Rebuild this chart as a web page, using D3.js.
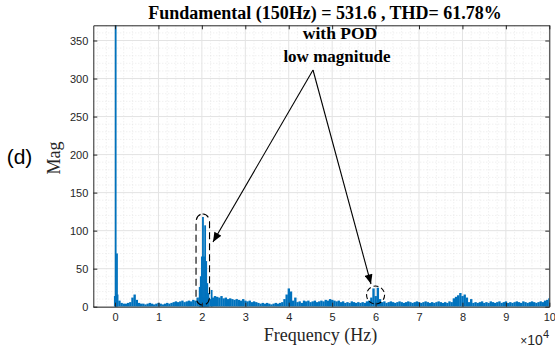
<!DOCTYPE html>
<html>
<head>
<meta charset="utf-8">
<script src="https://cdn.jsdelivr.net/npm/d3@7"></script>
<style>
  body { margin: 0; background: #fff; }
  .tick text { font-family: "Liberation Sans", Arial, sans-serif; font-size: 11px; fill: #262626; }
</style>
</head>
<body>
<svg id="chart"></svg>
<script>
// spectrum floor, one value every 500 Hz from 0 to 100 kHz
const binStep = 500;
const floorMag = [
  14, 16, 8, 5, 4, 4, 5, 6, 12, 16,
  9, 5, 4, 4, 3, 4, 5, 4, 3, 4,
  5, 4, 3, 4, 5, 4, 5, 6, 7, 6,
  7, 8, 6, 7, 8, 7, 9, 8, 12, 12,
  12, 12, 12, 12, 10, 12, 14, 13, 12, 14,
  11, 12, 10, 11, 10, 9, 10, 9, 8, 10,
  8, 7, 8, 6, 7, 6, 5, 4, 5, 4,
  5, 4, 3, 4, 5, 4, 5, 6, 10, 16,
  24, 20, 8, 12, 6, 7, 5, 8, 7, 8,
  6, 7, 8, 6, 7, 8, 7, 9, 8, 10,
  9, 8, 7, 8, 6, 7, 5, 6, 5, 7,
  6, 5, 6, 5, 6, 5, 7, 8, 12, 24,
  14, 25, 10, 6, 7, 5, 6, 7, 6, 5,
  6, 7, 6, 5, 6, 7, 6, 5, 6, 7,
  6, 5, 6, 7, 6, 5, 6, 5, 6, 7,
  6, 5, 6, 5, 7, 6, 11, 13, 15, 18,
  14, 16, 12, 6, 10, 5, 6, 5, 6, 7,
  5, 6, 5, 7, 6, 5, 6, 7, 5, 6,
  7, 5, 6, 5, 6, 7, 6, 5, 7, 6,
  5, 6, 7, 6, 5, 6, 7, 6, 8, 9,
  11
];

// narrow spikes (fundamental and the switching cluster around 20 kHz)
const peakFreq = [150, 450, 19500, 19750, 20000, 20250, 20500, 20750, 21000, 21250, 21500, 22250];
const peakMag = [531.6, 70, 26, 40, 66, 118, 66, 107, 60, 31, 18, 22];

const xTicks = [0, 10000, 20000, 30000, 40000, 50000, 60000, 70000, 80000, 90000, 100000];
const xTickLabels = ['0', '1', '2', '3', '4', '5', '6', '7', '8', '9', '10'];
const yTicks = [0, 50, 100, 150, 200, 250, 300, 350];

const width = 555;
const height = 350;
const plotLeft = 93.3, plotRight = 549.3, plotTop = 25.3, plotBottom = 306.7;
const blue = '#0072BD';
const axisColor = '#262626';

const svg = d3.select('#chart').attr('width', width).attr('height', height);

const xScale = d3.scaleLinear().domain([-5000, 100000]).range([plotLeft, plotRight]);
const yScale = d3.scaleLinear().domain([0, 370]).range([plotBottom, plotTop]);

const defs = svg.append('defs');
defs.append('clipPath').attr('id', 'plotClip')
  .append('rect')
  .attr('x', plotLeft).attr('y', plotTop)
  .attr('width', plotRight - plotLeft).attr('height', plotBottom - plotTop);

// minor grid (dotted)
const minorX = d3.range(-4000, 100001, 2000).filter(v => v % 10000 !== 0);
const minorY = d3.range(10, 370, 10).filter(v => v % 50 !== 0);
const grid = svg.append('g');
grid.selectAll('line.mx').data(minorX).enter().append('line')
  .attr('x1', d => xScale(d)).attr('x2', d => xScale(d))
  .attr('y1', plotTop).attr('y2', plotBottom)
  .attr('stroke', '#dcdcdc').attr('stroke-width', 0.6).attr('stroke-dasharray', '1,2');
grid.selectAll('line.my').data(minorY).enter().append('line')
  .attr('x1', plotLeft).attr('x2', plotRight)
  .attr('y1', d => yScale(d)).attr('y2', d => yScale(d))
  .attr('stroke', '#dcdcdc').attr('stroke-width', 0.6).attr('stroke-dasharray', '1,2');
// major grid
grid.selectAll('line.gx').data(xTicks).enter().append('line')
  .attr('x1', d => xScale(d)).attr('x2', d => xScale(d))
  .attr('y1', plotTop).attr('y2', plotBottom)
  .attr('stroke', '#e3e3e3').attr('stroke-width', 1);
grid.selectAll('line.gy').data(yTicks).enter().append('line')
  .attr('x1', plotLeft).attr('x2', plotRight)
  .attr('y1', d => yScale(d)).attr('y2', d => yScale(d))
  .attr('stroke', '#e3e3e3').attr('stroke-width', 1);

// spectrum
const plot = svg.append('g').attr('clip-path', 'url(#plotClip)');
const binW = xScale(binStep) - xScale(0);
plot.selectAll('rect.bin')
  .data(floorMag)
  .enter()
  .append('rect')
  .attr('class', 'bin')
  .attr('x', (d, i) => xScale(i * binStep) - binW / 2)
  .attr('width', binW + 0.2)
  .attr('y', d => yScale(d))
  .attr('height', d => yScale(0) - yScale(d))
  .attr('fill', blue);

const peaks = peakFreq.map((f, i) => ({ f, m: peakMag[i] }));
plot.selectAll('rect.peak')
  .data(peaks)
  .enter()
  .append('rect')
  .attr('class', 'peak')
  .attr('x', d => xScale(d.f) - 0.9)
  .attr('width', 1.8)
  .attr('y', d => yScale(d.m))
  .attr('height', d => yScale(0) - yScale(d.m))
  .attr('fill', blue);

// axes with inward ticks, MATLAB style box
const xAxis = d3.axisBottom(xScale).tickValues(xTicks)
  .tickFormat((d, i) => xTickLabels[i]).tickSizeInner(-4).tickSizeOuter(0).tickPadding(7);
const yAxis = d3.axisLeft(yScale).tickValues(yTicks)
  .tickSizeInner(-4).tickSizeOuter(0).tickPadding(5);

svg.append('g').attr('transform', 'translate(0,' + plotBottom + ')').call(xAxis);
svg.append('g').attr('transform', 'translate(' + plotLeft + ',0)').call(yAxis);
svg.append('g').attr('transform', 'translate(0,' + plotTop + ')')
  .call(d3.axisTop(xScale).tickValues(xTicks).tickFormat('').tickSizeInner(-4).tickSizeOuter(0));
svg.append('g').attr('transform', 'translate(' + plotRight + ',0)')
  .call(d3.axisRight(yScale).tickValues(yTicks).tickFormat('').tickSizeInner(-4).tickSizeOuter(0));
svg.selectAll('.domain, .tick line').attr('stroke', axisColor);

// texts
const serif = '"Liberation Serif", "Times New Roman", serif';
svg.append('text')
  .attr('x', 325).attr('y', 18.5)
  .attr('text-anchor', 'middle')
  .style('font-family', serif).style('font-size', '18px').style('font-weight', 'bold')
  .text('Fundamental (150Hz) = 531.6 , THD= 61.78%');

svg.append('text')
  .attr('x', 320.5).attr('y', 341)
  .attr('text-anchor', 'middle')
  .style('font-family', serif).style('font-size', '18px')
  .attr('fill', axisColor)
  .text('Frequency (Hz)');

svg.append('text')
  .attr('transform', 'translate(60,158) rotate(-90)')
  .attr('text-anchor', 'middle')
  .style('font-family', serif).style('font-size', '18px')
  .attr('fill', axisColor)
  .text('Mag');

svg.append('text')
  .attr('x', 19.5).attr('y', 164)
  .attr('text-anchor', 'middle')
  .style('font-family', '"Liberation Sans", Arial, sans-serif').style('font-size', '21px')
  .text('(d)');

const expo = svg.append('text')
  .attr('x', 549).attr('y', 345)
  .attr('text-anchor', 'end')
  .style('font-family', '"Liberation Sans", Arial, sans-serif').style('font-size', '14px')
  .attr('fill', axisColor);
expo.append('tspan').style('font-size', '12px').text('\u00d7');
expo.append('tspan').text('10');
expo.append('tspan').attr('dy', -7).style('font-size', '11px').text('4');

svg.append('text')
  .attr('x', 340).attr('y', 38.5)
  .attr('text-anchor', 'middle')
  .style('font-family', serif).style('font-size', '17.5px').style('font-weight', 'bold')
  .text('with POD');
svg.append('text')
  .attr('x', 337).attr('y', 62)
  .attr('text-anchor', 'middle')
  .style('font-family', serif).style('font-size', '17px').style('font-weight', 'bold')
  .text('low magnitude');

// annotation arrows
defs.append('marker')
  .attr('id', 'head').attr('viewBox', '0 0 12 10')
  .attr('refX', 12).attr('refY', 5)
  .attr('markerWidth', 11).attr('markerHeight', 8)
  .attr('markerUnits', 'userSpaceOnUse')
  .attr('orient', 'auto')
  .append('path').attr('d', 'M0,0 L12,5 L0,10 Z').attr('fill', '#000');

const apex = [313, 70];
[[213, 242], [371, 284]].forEach(p => {
  svg.append('line')
    .attr('x1', apex[0]).attr('y1', apex[1])
    .attr('x2', p[0]).attr('y2', p[1])
    .attr('stroke', '#000').attr('stroke-width', 1.1)
    .attr('marker-end', 'url(#head)');
});

svg.append('rect')
  .attr('x', xScale(19000) - 1.5).attr('y', 214)
  .attr('width', 13.5).attr('height', 91)
  .attr('rx', 6.5).attr('ry', 8)
  .attr('fill', 'none').attr('stroke', '#000').attr('stroke-width', 1.1)
  .attr('stroke-dasharray', '7,4');

svg.append('circle')
  .attr('cx', xScale(60000)).attr('cy', 295).attr('r', 9)
  .attr('fill', 'none').attr('stroke', '#000').attr('stroke-width', 1.1)
  .attr('stroke-dasharray', '5,3');
</script>
</body>
</html>
